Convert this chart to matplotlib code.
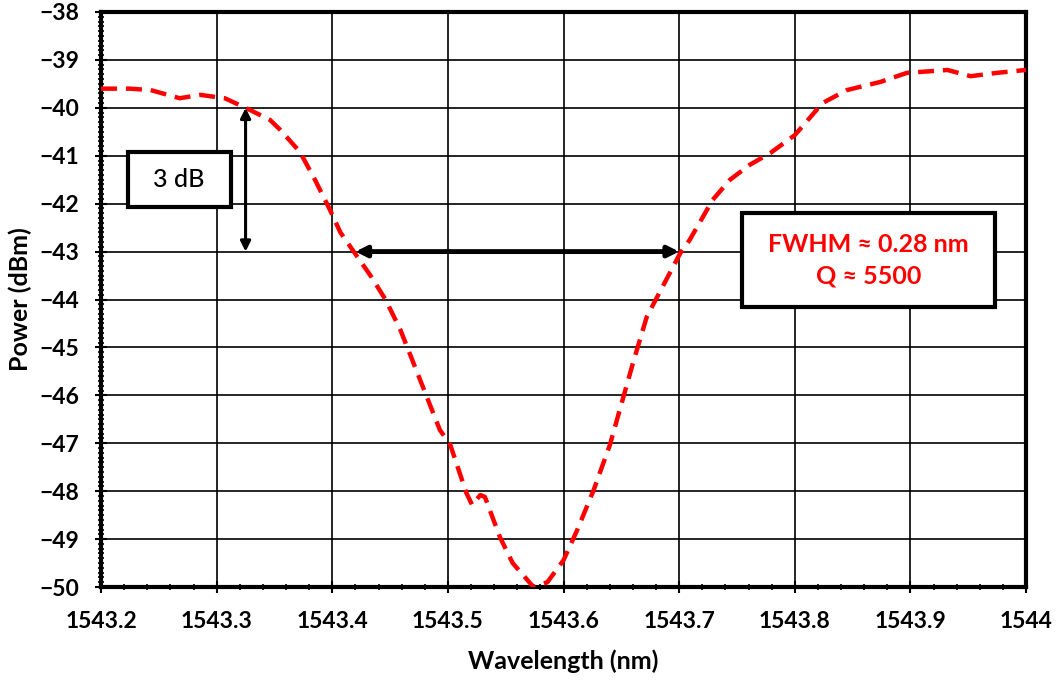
import matplotlib
matplotlib.use('Agg')
import matplotlib.pyplot as plt
from matplotlib.patches import Rectangle
from matplotlib.ticker import MultipleLocator

plt.rcParams['font.family'] = ['Lato', 'DejaVu Sans']

# Measured transmission spectrum around the resonance dip
wavelength = [1543.200, 1543.225, 1543.243, 1543.268, 1543.286, 1543.307, 1543.325,
              1543.346, 1543.355, 1543.372, 1543.385, 1543.398, 1543.407, 1543.420,
              1543.433, 1543.446, 1543.459, 1543.476, 1543.493, 1543.502, 1543.516,
              1543.521, 1543.528, 1543.532, 1543.545, 1543.556, 1543.574, 1543.586,
              1543.600, 1543.612, 1543.626, 1543.640, 1543.651, 1543.660, 1543.672,
              1543.682, 1543.701, 1543.709, 1543.729, 1543.744, 1543.761, 1543.779,
              1543.800, 1543.824, 1543.845, 1543.874, 1543.897, 1543.915, 1543.932,
              1543.952, 1543.975, 1544.000]
power = [-39.60, -39.60, -39.63, -39.80, -39.73, -39.80, -40.00,
         -40.25, -40.46, -40.92, -41.50, -42.13, -42.60, -43.05,
         -43.50, -44.00, -44.64, -45.68, -46.72, -47.03, -48.04,
         -48.29, -48.08, -48.12, -48.96, -49.50, -50.00, -49.90,
         -49.44, -48.80, -47.98, -47.04, -46.10, -45.33, -44.36,
         -43.90, -43.03, -42.76, -41.92, -41.50, -41.19, -40.94,
         -40.57, -39.90, -39.63, -39.46, -39.27, -39.24, -39.21,
         -39.34, -39.27, -39.21]

# Annotation values
fwhm_left, fwhm_right, fwhm_level = 1543.42, 1543.70, -43.0
db_x, db_top, db_bottom = 1543.325, -40.0, -43.0

fig = plt.figure(figsize=(10.58, 6.81), dpi=100)
ax = fig.add_axes([0.0955, 0.138, 0.8743, 0.8444])

ax.plot(wavelength, power, color='red', lw=3.2, ls=(0, (3.6, 2.0)), zorder=3)

ax.set_xlim(1543.2, 1544.0)
ax.set_ylim(-50, -38)
ax.xaxis.set_major_locator(MultipleLocator(0.1))
ax.xaxis.set_minor_locator(MultipleLocator(0.02))
ax.yaxis.set_major_locator(MultipleLocator(1))
ax.yaxis.set_minor_locator(MultipleLocator(0.1))
ax.set_xticklabels([f'{v:g}' for v in ax.get_xticks()])
ax.grid(True, which='major', color='black', lw=1.2)
ax.tick_params(which='major', direction='inout', length=8, width=1.5,
               labelsize=16.5, top=False, right=False)
ax.tick_params(axis='x', which='major', pad=13)
ax.tick_params(axis='y', which='major', pad=12)
ax.tick_params(which='minor', direction='inout', length=5, width=1.2,
               top=False, right=False)
for lab in ax.get_xticklabels() + ax.get_yticklabels():
    lab.set_fontweight('bold')
for s in ax.spines.values():
    s.set_linewidth(3)

ax.set_xlabel('Wavelength (nm)', fontsize=18, fontweight='bold')
ax.set_ylabel('Power (dBm)', fontsize=18, fontweight='bold')
ax.xaxis.set_label_coords(0.5, -0.108)
ax.yaxis.set_label_coords(-0.075, 0.5)

# 3 dB marker
ax.annotate('', xy=(db_x, db_top), xytext=(db_x, db_bottom),
            arrowprops=dict(arrowstyle='<|-|>', color='black', lw=2.2,
                            mutation_scale=15, shrinkA=0, shrinkB=0), zorder=4)
ax.add_patch(Rectangle((1543.223, -42.07), 0.089, 1.15, facecolor='white',
                       edgecolor='black', lw=3, zorder=4))
ax.text(1543.2675, -41.5, '3 dB', ha='center', va='center', fontsize=18,
        fontweight='medium', zorder=5)

# FWHM marker
ax.annotate('', xy=(fwhm_left, fwhm_level), xytext=(fwhm_right, fwhm_level),
            arrowprops=dict(arrowstyle='<|-|>', color='black', lw=3.5,
                            mutation_scale=16, shrinkA=0, shrinkB=0), zorder=4)
ax.add_patch(Rectangle((1543.754, -44.16), 0.219, 1.97, facecolor='white',
                       edgecolor='black', lw=3, zorder=4))
ax.text(1543.8635, -43.18, 'FWHM \u2248 0.28 nm\nQ \u2248 5500', ha='center',
        va='center', fontsize=18, fontweight='bold', color='red',
        linespacing=1.45, zorder=5)

fig.savefig('out.png', dpi=100)
